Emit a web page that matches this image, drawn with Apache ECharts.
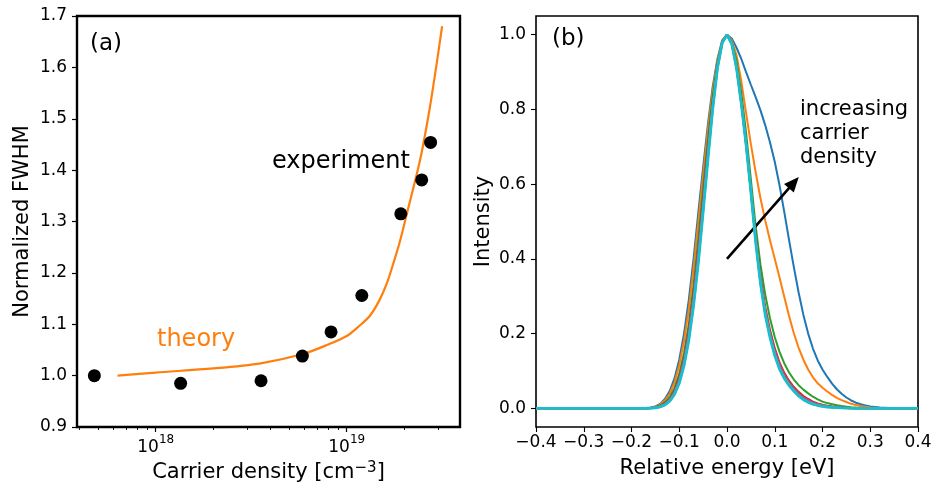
<!DOCTYPE html>
<html><head><meta charset="utf-8">
<script src="https://cdn.jsdelivr.net/npm/echarts@6/dist/echarts.min.js"></script>
<style>html,body{margin:0;padding:0;background:#fff}#c{width:936px;height:489px}</style>
</head><body><div id="c"></div>
<script>
// ---------- panel (a) data ----------
const expDensity = [4.77e17, 1.35e18, 3.56e18, 5.86e18, 8.28e18, 1.20e19, 1.92e19, 2.47e19, 2.75e19];
const expFwhm    = [1.000, 0.985, 0.990, 1.038, 1.085, 1.156, 1.315, 1.381, 1.454];
const theoryDensity = [6.31e17, 1.00e18, 2.00e18, 3.55e18, 5.89e18, 7.94e18, 1.00e19, 1.175e19, 1.32e19, 1.48e19, 1.62e19, 1.76e19, 1.905e19, 2.065e19, 2.43e19, 2.72e19, 2.95e19, 3.16e19];
const theoryFwhm    = [1.000, 1.006, 1.014, 1.024, 1.042, 1.060, 1.077, 1.098, 1.116, 1.146, 1.179, 1.220, 1.263, 1.315, 1.422, 1.520, 1.604, 1.680];
const fwhmTicks = [0.9, 1.0, 1.1, 1.2, 1.3, 1.4, 1.5, 1.6, 1.7];
const densityMajorExponents = [18, 19];
const densityMinorTicks = [4e17, 5e17, 6e17, 7e17, 8e17, 9e17, 2e18, 3e18, 4e18, 5e18, 6e18, 7e18, 8e18, 9e18, 2e19, 3e19];
const densityMin = 3.87e17, densityMax = 3.92e19;

// ---------- panel (b) data ----------
const energy = [-0.4, -0.2, -0.18, -0.17, -0.16, -0.15, -0.14, -0.13, -0.12, -0.11, -0.10, -0.09, -0.08, -0.07, -0.06, -0.05, -0.04, -0.03, -0.02, -0.01,
  0,
  0.01, 0.02, 0.03, 0.04, 0.05, 0.06, 0.07, 0.08, 0.09, 0.10, 0.11, 0.12, 0.13, 0.14, 0.15, 0.16, 0.17, 0.18, 0.19, 0.20,
  0.21, 0.22, 0.23, 0.24, 0.25, 0.26, 0.27, 0.28, 0.29, 0.30, 0.32, 0.35, 0.4];
const intensityBlue = [0, 0, 0.0002, 0.0007, 0.002, 0.005, 0.012, 0.025, 0.046, 0.08, 0.13, 0.20, 0.29, 0.40, 0.525, 0.645, 0.76, 0.86, 0.935, 0.985,
  1.0,
  0.99, 0.965, 0.935, 0.90, 0.866, 0.833, 0.798, 0.758, 0.712, 0.66, 0.597, 0.525, 0.45, 0.378, 0.31, 0.25, 0.20, 0.16, 0.128, 0.104,
  0.084, 0.066, 0.051, 0.039, 0.029, 0.021, 0.015, 0.011, 0.0075, 0.005, 0.002, 0.0005, 0];
const intensityOrange = [0, 0, 0, 0.0005, 0.0015, 0.004, 0.01, 0.021, 0.039, 0.069, 0.115, 0.18, 0.265, 0.375, 0.50, 0.625, 0.745, 0.85, 0.93, 0.984,
  1.0,
  0.985, 0.945, 0.875, 0.79, 0.707, 0.632, 0.563, 0.503, 0.45, 0.40, 0.35, 0.298, 0.247, 0.201, 0.162, 0.13, 0.104, 0.083, 0.067, 0.055,
  0.045, 0.036, 0.028, 0.022, 0.017, 0.012, 0.009, 0.006, 0.004, 0.0025, 0.001, 0, 0];
const intensityGreen = [0, 0, 0, 0.0003, 0.001, 0.003, 0.0075, 0.016, 0.03, 0.054, 0.092, 0.148, 0.225, 0.33, 0.455, 0.59, 0.72, 0.835, 0.925, 0.982,
  1.0,
  0.98, 0.93, 0.845, 0.737, 0.613, 0.488, 0.385, 0.305, 0.241, 0.191, 0.151, 0.12, 0.096, 0.077, 0.062, 0.05, 0.04, 0.031, 0.024, 0.018,
  0.014, 0.011, 0.008, 0.006, 0.0045, 0.003, 0.002, 0.0015, 0.001, 0.0005, 0, 0, 0];
const intensityRed = [0, 0, 0, 0.0002, 0.0008, 0.0024, 0.006, 0.013, 0.025, 0.047, 0.082, 0.135, 0.21, 0.31, 0.43, 0.565, 0.70, 0.82, 0.918, 0.98,
  1.0,
  0.977, 0.915, 0.825, 0.715, 0.59, 0.463, 0.355, 0.272, 0.21, 0.161, 0.123, 0.095, 0.074, 0.057, 0.044, 0.033, 0.025, 0.018, 0.013, 0.0095,
  0.007, 0.005, 0.0035, 0.0025, 0.0017, 0.001, 0.0006, 0.0003, 0.0001, 0, 0, 0, 0];
const intensityPurple = [0, 0, 0, 0.0002, 0.0007, 0.002, 0.005, 0.011, 0.023, 0.043, 0.076, 0.127, 0.20, 0.297, 0.415, 0.552, 0.69, 0.812, 0.915, 0.979,
  1.0,
  0.976, 0.913, 0.82, 0.71, 0.585, 0.456, 0.347, 0.264, 0.202, 0.153, 0.116, 0.089, 0.069, 0.052, 0.039, 0.029, 0.021, 0.015, 0.011, 0.008,
  0.0058, 0.004, 0.0028, 0.0018, 0.0012, 0.0007, 0.0004, 0.0002, 0.0001, 0, 0, 0, 0];
const intensityBrown = [0, 0, 0, 0.0002, 0.0006, 0.0018, 0.0045, 0.01, 0.021, 0.04, 0.072, 0.122, 0.193, 0.288, 0.405, 0.543, 0.682, 0.808, 0.913, 0.979,
  1.0,
  0.976, 0.912, 0.818, 0.708, 0.583, 0.452, 0.342, 0.259, 0.198, 0.149, 0.112, 0.086, 0.066, 0.05, 0.037, 0.027, 0.019, 0.0135, 0.0095, 0.007,
  0.005, 0.0035, 0.0024, 0.0015, 0.001, 0.0005, 0.0003, 0.0001, 0, 0, 0, 0, 0];
const intensityPink = [0, 0, 0, 0, 0.0005, 0.0016, 0.0042, 0.0095, 0.02, 0.039, 0.07, 0.119, 0.189, 0.283, 0.399, 0.536, 0.676, 0.805, 0.912, 0.978,
  1.0,
  0.976, 0.911, 0.817, 0.707, 0.582, 0.45, 0.34, 0.256, 0.195, 0.146, 0.109, 0.083, 0.064, 0.048, 0.035, 0.025, 0.018, 0.012, 0.0085, 0.006,
  0.0043, 0.003, 0.002, 0.0012, 0.0008, 0.0004, 0.0002, 0.0001, 0, 0, 0, 0, 0];
const intensityGray = [0, 0, 0, 0, 0.0005, 0.0015, 0.004, 0.0092, 0.0195, 0.038, 0.069, 0.117, 0.186, 0.279, 0.395, 0.531, 0.671, 0.803, 0.911, 0.978,
  1.0,
  0.975, 0.91, 0.816, 0.706, 0.581, 0.448, 0.338, 0.254, 0.193, 0.144, 0.107, 0.082, 0.063, 0.047, 0.034, 0.024, 0.017, 0.0115, 0.008, 0.0055,
  0.004, 0.0027, 0.0018, 0.0011, 0.0007, 0.0003, 0.0002, 0.0001, 0, 0, 0, 0, 0];
const intensityOlive = [0, 0, 0, 0, 0.0005, 0.0015, 0.004, 0.009, 0.019, 0.037, 0.068, 0.115, 0.183, 0.276, 0.392, 0.527, 0.667, 0.801, 0.91, 0.978,
  1.0,
  0.975, 0.91, 0.815, 0.705, 0.58, 0.447, 0.336, 0.252, 0.191, 0.142, 0.106, 0.081, 0.062, 0.046, 0.033, 0.023, 0.016, 0.011, 0.0075, 0.005,
  0.0035, 0.0025, 0.0017, 0.001, 0.0006, 0.0003, 0.0001, 0, 0, 0, 0, 0, 0];
const intensityCyan = [0, 0, 0, 0, 0.0005, 0.0015, 0.004, 0.009, 0.019, 0.037, 0.067, 0.114, 0.182, 0.275, 0.39, 0.525, 0.665, 0.80, 0.91, 0.978,
  1.0,
  0.975, 0.91, 0.815, 0.705, 0.58, 0.445, 0.335, 0.25, 0.19, 0.141, 0.105, 0.08, 0.061, 0.046, 0.033, 0.023, 0.016, 0.011, 0.0075, 0.005,
  0.0035, 0.0025, 0.0017, 0.001, 0.0006, 0.0003, 0.0001, 0, 0, 0, 0, 0, 0];
const spectra = [
  {name: 'n1', color: '#1f77b4', values: intensityBlue},
  {name: 'n2', color: '#ff7f0e', values: intensityOrange},
  {name: 'n3', color: '#2ca02c', values: intensityGreen},
  {name: 'n4', color: '#d62728', values: intensityRed},
  {name: 'n5', color: '#9467bd', values: intensityPurple},
  {name: 'n6', color: '#8c564b', values: intensityBrown},
  {name: 'n7', color: '#e377c2', values: intensityPink},
  {name: 'n8', color: '#7f7f7f', values: intensityGray},
  {name: 'n9', color: '#bcbd22', values: intensityOlive},
  {name: 'n10', color: '#17becf', values: intensityCyan}
];
const energyTicks = [-0.4, -0.3, -0.2, -0.1, 0.0, 0.1, 0.2, 0.3, 0.4];
const intensityTicks = [0.0, 0.2, 0.4, 0.6, 0.8, 1.0];
const arrowStart = [0.0, 0.40], arrowEnd = [0.140, 0.604];

// ---------- chart ----------
const FONT = 'DejaVu Sans';
const chart = echarts.init(document.getElementById('c'), null, {renderer: 'canvas'});
const tickLbl = {color: '#000', fontFamily: FONT, fontSize: 17};
const fmt1 = v => (v < -1e-9 ? '\u2212' : '') + Math.abs(v).toFixed(1);
const expLo = Math.log10(densityMin), expHi = Math.log10(densityMax);

const series = [
  {type: 'line', xAxisIndex: 0, yAxisIndex: 0, data: theoryDensity.map((d, i) => [d, theoryFwhm[i]]),
   showSymbol: false, smooth: 0.3, lineStyle: {color: '#ff7f0e', width: 2.2}, z: 2, silent: true},
  {type: 'scatter', xAxisIndex: 0, yAxisIndex: 0, data: expDensity.map((d, i) => [d, expFwhm[i]]),
   symbol: 'circle', symbolSize: 13, itemStyle: {color: '#000', opacity: 1}, z: 3, clip: false, silent: true}
];
spectra.forEach((s, k) => {
  const ser = {type: 'line', name: s.name, xAxisIndex: 3, yAxisIndex: 1,
    data: energy.map((e, i) => [e, s.values[i]]), showSymbol: false, smooth: false,
    lineStyle: {color: s.color, width: k === spectra.length - 1 ? 2.8 : 2}, z: 2 + k, silent: true};
  if (k === spectra.length - 1) {
    ser.markLine = {silent: true, symbol: ['none', 'triangle'], symbolSize: [13, 15],
      lineStyle: {color: '#000', width: 2.6, type: 'solid'}, label: {show: false},
      data: [[{coord: arrowStart}, {coord: arrowEnd}]]};
  }
  series.push(ser);
});

chart.setOption({
  animation: false,
  backgroundColor: '#fff',
  grid: [
    {left: 77, top: 16, width: 383, height: 411, show: true, borderColor: '#000', borderWidth: 2.4, backgroundColor: 'transparent', containLabel: false, outerBoundsMode: 'none'},
    {left: 536, top: 16, width: 382, height: 411, show: true, borderColor: '#000', borderWidth: 1.6, backgroundColor: 'transparent', containLabel: false, outerBoundsMode: 'none'}
  ],
  xAxis: [
    {type: 'log', gridIndex: 0, min: densityMin, max: densityMax, show: false, logBase: 10, axisLine: {onZero: false}},
    {type: 'value', gridIndex: 0, min: expLo, max: expHi, position: 'bottom',
     axisLine: {show: false, onZero: false}, splitLine: {show: false},
     axisTick: {show: true, customValues: densityMajorExponents, length: 5, lineStyle: {color: '#000', width: 1.2}},
     axisLabel: {show: true, customValues: densityMajorExponents, margin: 7, color: '#000', fontFamily: FONT,
       formatter: v => '{b|10}{sup|' + Math.round(v) + '}',
       rich: {b: {fontSize: 17, fontFamily: FONT, color: '#000', verticalAlign: 'bottom'},
              sup: {fontSize: 12, fontFamily: FONT, color: '#000', verticalAlign: 'top', padding: [0, 0, 10, 0]}}},
     name: 'Carrier density [cm{sup|\u22123}]', nameLocation: 'middle', nameGap: 34,
     nameTextStyle: {fontSize: 21, fontFamily: FONT, color: '#000',
       rich: {sup: {fontSize: 15, fontFamily: FONT, color: '#000', verticalAlign: 'top', padding: [0, 0, 8, 0]}}}},
    {type: 'value', gridIndex: 0, min: expLo, max: expHi, position: 'bottom',
     axisLine: {show: false, onZero: false}, splitLine: {show: false}, axisLabel: {show: false},
     axisTick: {show: true, customValues: densityMinorTicks.map(v => Math.log10(v)), length: 3, lineStyle: {color: '#000', width: 0.9}}},
    {type: 'value', gridIndex: 1, min: -0.4, max: 0.4, interval: 0.1, position: 'bottom',
     axisLine: {show: false, onZero: false}, splitLine: {show: false},
     axisTick: {show: true, customValues: energyTicks, length: 5, lineStyle: {color: '#000', width: 1.1}},
     axisLabel: Object.assign({customValues: energyTicks, margin: 7, formatter: fmt1, hideOverlap: false}, tickLbl),
     name: 'Relative energy [eV]', nameLocation: 'middle', nameGap: 31,
     nameTextStyle: {fontSize: 21, fontFamily: FONT, color: '#000'}}
  ],
  yAxis: [
    {type: 'value', gridIndex: 0, min: 0.9, max: 1.7, position: 'left',
     axisLine: {show: false, onZero: false}, splitLine: {show: false},
     axisTick: {show: true, customValues: fwhmTicks, length: 5, lineStyle: {color: '#000', width: 1.2}},
     axisLabel: Object.assign({customValues: fwhmTicks, margin: 10, formatter: v => v.toFixed(1)}, tickLbl),
     name: 'Normalized FWHM', nameLocation: 'middle', nameGap: 44,
     nameTextStyle: {fontSize: 21, fontFamily: FONT, color: '#000'}},
    {type: 'value', gridIndex: 1, min: -0.05, max: 1.05, position: 'left',
     axisLine: {show: false, onZero: false}, splitLine: {show: false},
     axisTick: {show: true, customValues: intensityTicks, length: 5, lineStyle: {color: '#000', width: 1.1}},
     axisLabel: Object.assign({customValues: intensityTicks, margin: 10, formatter: v => v.toFixed(1)}, tickLbl),
     name: 'Intensity', nameLocation: 'middle', nameGap: 42,
     nameTextStyle: {fontSize: 21, fontFamily: FONT, color: '#000'}}
  ],
  graphic: [
    {type: 'text', x: 90, y: 44, style: {text: '(a)', fontSize: 23, fontFamily: FONT, fill: '#000', verticalAlign: 'middle'}},
    {type: 'text', x: 552, y: 39, style: {text: '(b)', fontSize: 23, fontFamily: FONT, fill: '#000', verticalAlign: 'middle'}},
    {type: 'text', x: 272, y: 162, style: {text: 'experiment', fontSize: 24, fontFamily: FONT, fill: '#000', verticalAlign: 'middle'}},
    {type: 'text', x: 157, y: 340, style: {text: 'theory', fontSize: 24, fontFamily: FONT, fill: '#ff7f0e', verticalAlign: 'middle'}},
    {type: 'text', x: 800, y: 98, style: {text: 'increasing\ncarrier\ndensity', fontSize: 21, lineHeight: 24, fontFamily: FONT, fill: '#000', verticalAlign: 'top'}}
  ],
  series: series
});
</script>
</body></html>
